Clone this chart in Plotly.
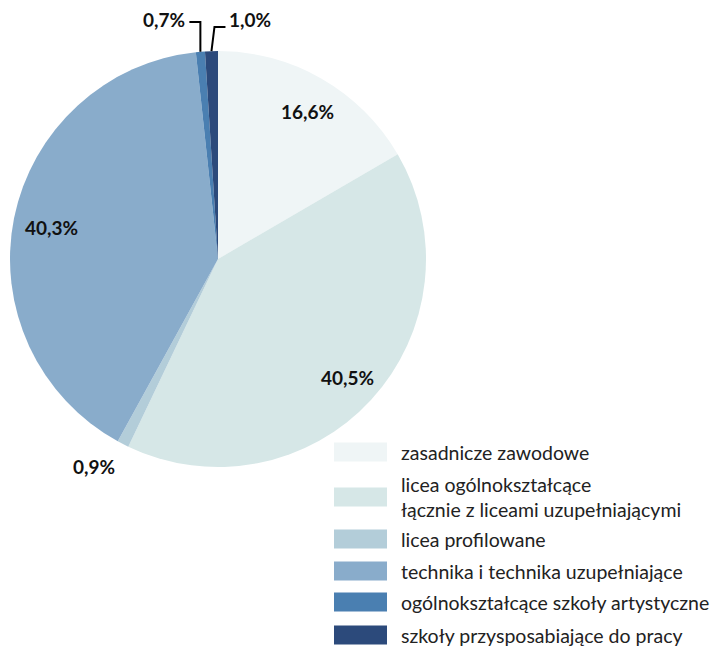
import math
import plotly.graph_objects as go

# Share of students by school type (percent)
categories = [
    "zasadnicze zawodowe",
    "licea ogólnokształcące<br>łącznie z liceami uzupełniającymi",
    "licea profilowane",
    "technika i technika uzupełniające",
    "ogólnokształcące szkoły artystyczne",
    "szkoły przysposabiające do pracy",
]
values = [16.6, 40.5, 0.9, 40.3, 0.7, 1.0]
colors = ["#EFF5F6", "#D6E7E7", "#B3CDD9", "#89ACCB", "#4A7FB1", "#2C4A7B"]

W, H = 721, 646
CX, CY, R = 218, 259, 208          # pie centre and radius in pixels
FONT = "Lato, 'Open Sans', sans-serif"
LABEL_SIZE = 19
LEGEND_SIZE = 19.5


def px(x):
    return x / W


def py(y):
    return 1 - y / H


def label(v):
    return f"{v:.1f}%".replace(".", ",")


fig = go.Figure(go.Pie(
    labels=[c.replace("<br>", " ") for c in categories],
    values=values,
    sort=False,
    direction="clockwise",
    rotation=0,
    marker=dict(colors=colors, line=dict(width=0)),
    textinfo="none",
    hoverinfo="label+percent",
    showlegend=False,
    domain=dict(x=[px(CX - R), px(CX + R)], y=[py(CY + R), py(CY - R)]),
))

annotations = []
shapes = []

# mid-angle of every slice, measured clockwise from 12 o'clock
total = sum(values)
mids = []
acc = 0.0
for v in values:
    mids.append((acc + v / 2) / total * 2 * math.pi)
    acc += v


def point(a, r):
    return CX + r * math.sin(a), CY - r * math.cos(a)


label_font = dict(size=LABEL_SIZE, color="#111", family=FONT)


def add_label(x, y, text, xanchor="center"):
    annotations.append(dict(x=px(x), y=py(y), xref="paper", yref="paper",
                            xanchor=xanchor, yanchor="middle",
                            text=text, showarrow=False, font=label_font))


# value labels: large slices inside, small slices outside
for i, v in enumerate(values):
    a = mids[i]
    text = f"<b>{label(v)}</b>"
    if v > 5:
        x, y = point(a, 0.83 * R)
        add_label(x + 3, y + 2, text)
    elif i == 2:
        x, y = point(a, 1.12 * R)
        add_label(x - 18, y, text)
    else:
        ex, ey = point(a, R)
        if i == 4:
            # leader goes up, then to the left
            path = (f"M {px(ex)} {py(ey)} L {px(ex)} {py(22)} "
                    f"L {px(ex - 11)} {py(22)}")
            add_label(ex - 13, 19, text, "right")
        else:
            # leader goes up, then to the right
            path = (f"M {px(ex)} {py(ey)} L {px(ex + 3)} {py(27)} "
                    f"L {px(ex + 14)} {py(27)}")
            add_label(ex + 16, 19, text, "left")
        shapes.append(dict(type="path", path=path, xref="paper", yref="paper",
                           line=dict(color="#000", width=2)))

# legend: coloured swatches with text
row_centres = [452, 497, 539, 571, 602, 635]
for c, col, yc in zip(categories, colors, row_centres):
    shapes.append(dict(type="rect", xref="paper", yref="paper",
                       x0=px(334), x1=px(387), y0=py(yc - 9.5), y1=py(yc + 9.5),
                       fillcolor=col, line=dict(width=0)))
    annotations.append(dict(x=px(399), y=py(yc), xref="paper", yref="paper",
                            xanchor="left", yanchor="middle", align="left",
                            text=c, showarrow=False,
                            font=dict(size=LEGEND_SIZE, color="#222", family=FONT)))

fig.update_layout(
    width=W, height=H,
    margin=dict(l=0, r=0, t=0, b=0),
    paper_bgcolor="white",
    plot_bgcolor="white",
    shapes=shapes,
    annotations=annotations,
)

fig.write_html("out.html")
